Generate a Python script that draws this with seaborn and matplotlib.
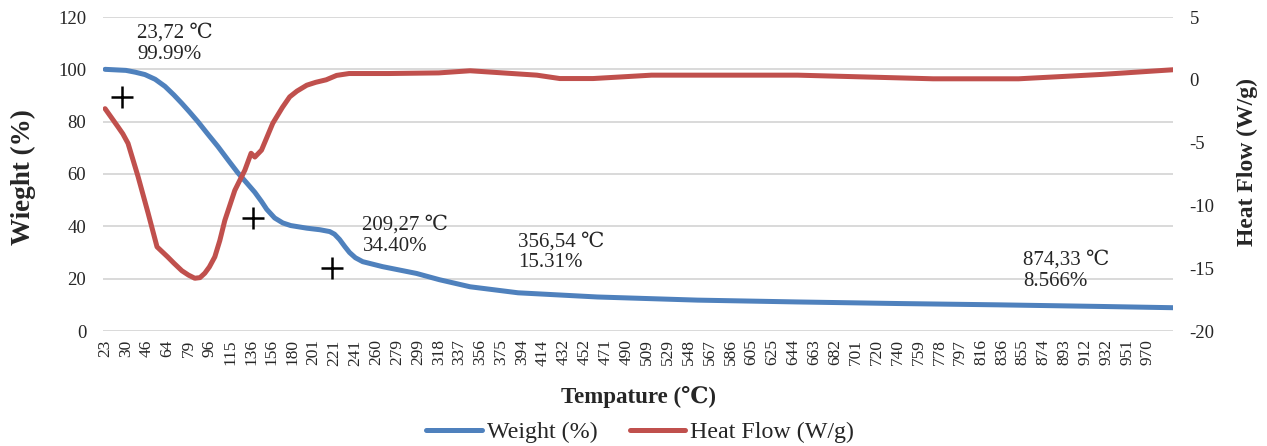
import numpy as np
import pandas as pd
import matplotlib
matplotlib.use('Agg')
import matplotlib.pyplot as plt
from matplotlib.lines import Line2D
import seaborn as sns

# category labels on the x axis (temperature, deg C)
temp_labels = ['23', '30', '46', '64', '79', '96', '115', '136', '156', '180', '201',
               '221', '241', '260', '279', '299', '318', '337', '356', '375', '394',
               '414', '432', '452', '471', '490', '509', '529', '548', '567', '586',
               '605', '625', '644', '663', '682', '701', '720', '740', '759', '778',
               '797', '816', '836', '855', '874', '893', '912', '932', '951', '970']

# weight curve, position in category units
weight_pos = [0, 0.5, 1.0, 1.45, 1.91, 2.4, 2.87, 3.3, 3.68, 4.05, 4.45, 4.9, 5.41,
              5.9, 6.36, 6.8, 7.18, 7.5, 7.75, 8.13, 8.52, 8.9, 9.67, 10.3, 10.77,
              11.0, 11.24, 11.5, 11.72, 12.0, 12.35, 13.3, 14.93, 16.03, 17.5, 19.8,
              23.6, 28.4, 33.2, 38.0, 42.8, 47.6, 51.2]
weight_vals = [100, 99.8, 99.6, 98.9, 98, 96.2, 93.5, 90.2, 87, 83.7, 80, 75.5, 70.5,
               65.3, 60.5, 56.5, 53, 49.5, 46.5, 43.2, 41.3, 40.3, 39.3, 38.7, 38,
               37, 35, 32.2, 30, 28, 26.5, 24.6, 22, 19.6, 16.9, 14.6,
               13, 11.8, 11.1, 10.5, 10, 9.4, 8.9]

# heat flow curve
heat_pos = [0, 0.3, 0.62, 0.85, 1.1, 1.58, 2.06, 2.49, 3.0, 3.3, 3.68, 4.0, 4.3, 4.55,
            4.78, 5.0, 5.26, 5.5, 5.74, 6.22, 6.7, 7.0, 7.18, 7.5, 8.04, 8.5, 8.85,
            9.2, 9.67, 10.1, 10.6, 11.1, 11.7, 13.6, 16.0, 17.5, 20.7, 21.8, 23.4,
            26.2, 33.2, 39.7, 43.8, 47.8, 51.2]
heat_vals = [-2.3, -3.0, -3.75, -4.3, -5.06, -7.7, -10.6, -13.3, -14.1, -14.6, -15.2,
             -15.55, -15.8, -15.75, -15.4, -14.9, -14.1, -12.8, -11.2, -8.8, -7.2,
             -5.85, -6.15, -5.6, -3.46, -2.2, -1.36, -0.9, -0.43, -0.2, 0.0, 0.35,
             0.5, 0.5, 0.55, 0.72, 0.37, 0.1, 0.1, 0.37, 0.37, 0.08, 0.08, 0.43, 0.8]

# cross markers and their notes
mark_pos = [0.81, 7.08, 10.9]
mark_vals = [89.4, 43.2, 24.1]
note_pos = [1.53, 12.34, 19.8, 44.0]
note_vals = [117.5, 44.0, 37.8, 30.6]
note_text = ['23,72 \u2103\n99.99%', '209,27 \u2103\n34.40%',
             '356,54 \u2103\n15.31%', '874,33 \u2103\n8.566%']

blue = '#4f81bd'
red = '#c0504d'

sns.set_theme(style='white')
plt.rcParams['font.family'] = ['Liberation Serif', 'DejaVu Serif', 'DejaVu Sans']
plt.rcParams['axes.unicode_minus'] = False

fig, ax = plt.subplots(figsize=(12.67, 4.46), dpi=100)
fig.subplots_adjust(left=103/1267, right=1173/1267, top=1-17/446, bottom=1-331/446)

df_w = pd.DataFrame({'pos': weight_pos, 'val': weight_vals})
df_h = pd.DataFrame({'pos': heat_pos, 'val': heat_vals})

sns.lineplot(data=df_w, x='pos', y='val', ax=ax, color=blue, lw=3.6,
             solid_capstyle='round', solid_joinstyle='round', legend=False)
sns.scatterplot(x=mark_pos, y=mark_vals, ax=ax, marker='+', s=260,
                color='black', linewidth=1.8, zorder=5)
for xp, yp, t in zip(note_pos, note_vals, note_text):
    ax.text(xp, yp, t, fontsize=15, va='top', ha='left', linespacing=1.15)

ax.set_xlim(-0.1, 51.2)
ax.set_ylim(0, 120)
ax.set_yticks(range(0, 121, 20))
ax.set_xticks(range(len(temp_labels)))
ax.set_xticklabels(temp_labels, rotation=90, fontsize=12.5)
ax.tick_params(axis='y', labelsize=13.5, length=0, pad=12)
ax.tick_params(axis='x', length=0, pad=6)
ax.yaxis.grid(True, color='#d9d9d9', lw=1.4)
ax.xaxis.grid(False)
for s in ax.spines.values():
    s.set_visible(False)

ax.set_xlabel('Tempature (\u2103)', fontsize=16.5, fontweight='bold')
ax.xaxis.set_label_coords(0.5, -0.175)
ax.set_ylabel('Wieght (%)', fontsize=19.5, fontweight='bold')
ax.yaxis.set_label_coords(-0.063, 0.49)

ax2 = ax.twinx()
sns.lineplot(data=df_h, x='pos', y='val', ax=ax2, color=red, lw=3.6,
             solid_capstyle='round', solid_joinstyle='round', legend=False)
ax2.set_ylim(-20, 5)
ax2.set_yticks(range(-20, 6, 5))
ax2.tick_params(axis='y', labelsize=13.5, length=0, pad=12)
ax2.grid(False)
for s in ax2.spines.values():
    s.set_visible(False)
ax2.set_ylabel('Heat Flow (W/g)', fontsize=17, fontweight='bold')
ax2.yaxis.set_label_coords(1.06, 0.538)

handles = [Line2D([], [], color=blue, lw=3.6, solid_capstyle='round'),
           Line2D([], [], color=red, lw=3.6, solid_capstyle='round')]
fig.legend(handles, ['Weight (%)', 'Heat Flow (W/g)'], loc='center',
           bbox_to_anchor=(640/1267, 1-432/446), ncol=2, frameon=False,
           fontsize=17.3, handlelength=2.3, handletextpad=0.2, columnspacing=1.35)

fig.savefig('out.png', dpi=100)
